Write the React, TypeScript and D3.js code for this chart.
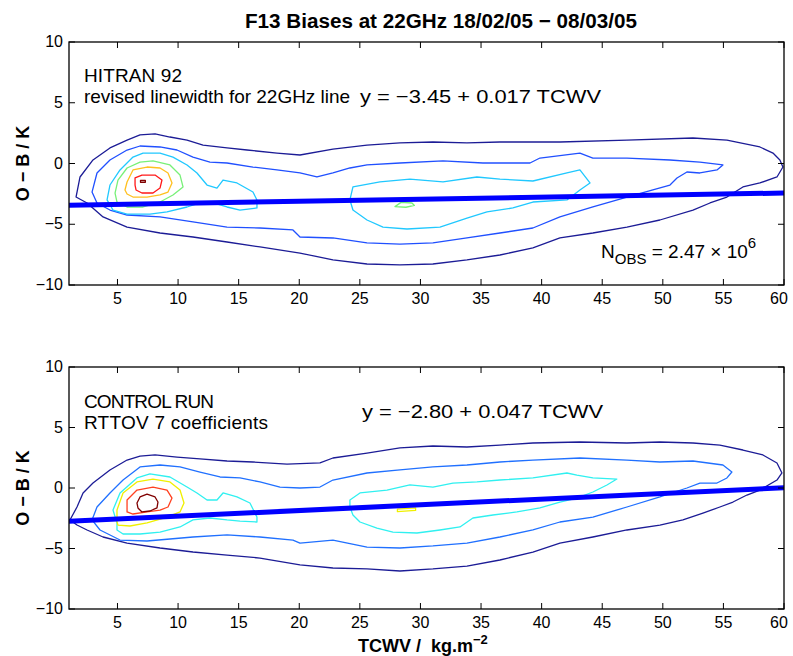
import React from 'react'
import * as d3 from 'd3'

// TCWV axis ticks and O-B ticks
const xTicks = [5, 10, 15, 20, 25, 30, 35, 40, 45, 50, 55, 60]
const yTicks = [-10, -5, 0, 5, 10]

type Pt = [number, number]

// ---- top panel (HITRAN 92 revised) contours, [TCWV, O-B] ----
const topNavy: Pt[] = [[1.58, -2.76], [1.91, -1.11], [2.98, 0.29], [4.38, 1.28], [5.79, 1.93], [6.86, 2.35], [8.1, 2.43], [9.33, 2.18], [10.74, 1.93], [12.06, 1.52], [14.04, 1.28], [15.69, 1.11], [18.16, 0.86], [20.06, 0.7], [22.78, 1.19], [25.59, 1.52], [28.31, 1.69], [31.03, 1.77], [33.84, 1.69], [36.56, 1.77], [39.28, 1.77], [41.51, 1.77], [47.04, 1.93], [52.49, 2.1], [55.29, 1.93], [58.01, 1.36], [59.09, 0.86], [59.66, 0.29], [59.91, -0.29], [59.42, -1.11], [58.01, -1.6], [56.61, -1.93], [55.29, -2.76], [53.89, -3.25], [52.49, -3.83], [49.76, -4.65], [47.04, -5.23], [44.23, -5.72], [41.51, -6.13], [39.28, -6.95], [36.56, -7.53], [33.84, -7.94], [31.03, -8.27], [28.31, -8.35], [25.59, -8.27], [22.78, -7.94], [20.06, -7.37], [16.76, -6.87], [14.04, -6.46], [11.23, -6.05], [8.51, -5.72], [5.79, -5.23], [3.81, -4.4], [2.49, -3.25]]
const topBlue: Pt[] = [[2.9, -2.35], [3.31, -0.78], [4.38, 0.29], [5.79, 1.11], [6.86, 1.44], [8.51, 1.36], [9.91, 1.11], [11.23, 0.53], [12.63, 0.12], [14.04, 0.04], [16.18, -0.29], [18.16, -0.53], [20.06, -0.78], [21.46, -1.11], [22.78, -0.78], [24.18, -0.37], [25.59, -0.12], [28.31, 0.04], [31.86, 0.21], [35.16, 0.04], [39.04, 0.04], [39.86, 0.45], [43.16, 0.86], [44.23, 0.45], [47.04, 0.45], [50.59, 0.29], [53.06, 0.12], [54.96, -0.12], [54.47, -0.53], [53.06, -0.78], [51.99, -0.7], [51.17, -1.19], [50.59, -1.77], [49.18, -2.18], [47.04, -2.76], [44.23, -3.58], [41.51, -4.4], [39.28, -5.31], [36.56, -5.72], [33.84, -6.13], [31.03, -6.54], [28.31, -6.63], [25.59, -6.54], [22.78, -6.13], [20.06, -6.05], [19.48, -5.47], [16.76, -5.31], [14.04, -5.23], [11.23, -4.81], [8.51, -4.4], [5.79, -4.24], [4.38, -3.83], [3.31, -3.25]]
const topCyanA: Pt[] = [[4.14, -3.0], [4.38, -1.77], [5.21, -0.53], [6.28, 0.53], [7.11, 0.86], [8.51, 0.86], [9.58, 0.53], [10.74, -0.12], [11.56, -0.78], [12.39, -1.77], [13.21, -2.02], [13.71, -1.36], [14.86, -1.6], [16.18, -2.35], [16.51, -3.0], [16.51, -3.66], [15.11, -3.83], [14.04, -3.58], [12.88, -3.25], [11.81, -3.25], [10.74, -3.58], [9.09, -3.99], [7.68, -4.16], [5.79, -4.16], [4.63, -3.83]]
const topCyanB: Pt[] = [[24.43, -1.93], [26.66, -1.52], [29.13, -1.28], [31.86, -1.52], [34.66, -1.11], [36.56, -1.28], [39.28, -1.44], [42.09, -0.78], [43.16, -0.53], [43.99, -1.6], [43.16, -2.18], [42.09, -3.0], [39.28, -3.17], [37.63, -3.66], [35.49, -3.99], [33.84, -4.49], [31.61, -5.23], [28.89, -5.39], [26.91, -5.23], [25.59, -4.65], [24.43, -3.83], [24.18, -3.0]]
const topGreenA: Pt[] = [[4.8, -2.43], [5.04, -1.36], [5.79, -0.37], [6.86, 0.12], [7.93, 0.21], [9.33, -0.12], [10.16, -0.95], [10.41, -1.93], [9.58, -2.59], [8.51, -3.17], [7.11, -3.58], [5.79, -3.58], [4.96, -3.17]]
const topGreenB: Pt[] = [[27.9, -3.55], [28.4, -3.2], [29.3, -3.25], [29.5, -3.45], [28.8, -3.6]]
const topOrange: Pt[] = [[5.62, -2.18], [5.79, -1.52], [6.28, -0.53], [7.44, -0.29], [8.51, -0.37], [9.17, -0.78], [9.5, -1.6], [9.17, -2.35], [8.51, -2.59], [7.44, -2.76], [6.28, -2.76], [5.79, -2.51]]
const topRed: Pt[] = [[6.45, -1.77], [6.45, -1.19], [7.02, -0.95], [8.1, -0.95], [8.67, -1.36], [8.51, -2.02], [7.93, -2.43], [7.02, -2.43], [6.53, -2.18]]
const topDark: Pt[] = [[6.9, -1.4], [7.3, -1.4], [7.3, -1.55], [6.9, -1.55]]

// ---- bottom panel (control run) contours ----
const botNavy: Pt[] = [[1.08, -2.64], [1.66, -1.57], [2.16, -0.41], [2.98, 0.41], [4.38, 1.49], [5.79, 2.31], [6.86, 2.64], [8.1, 2.73], [9.91, 2.56], [11.81, 2.4], [14.04, 2.23], [16.18, 2.15], [18.99, 1.98], [21.71, 2.07], [22.78, 2.48], [25.59, 2.89], [28.31, 3.31], [31.03, 3.47], [33.84, 3.39], [36.56, 3.55], [39.28, 3.72], [43.16, 3.8], [47.04, 3.72], [49.76, 3.8], [52.49, 3.72], [54.71, 3.55], [56.61, 3.14], [58.26, 2.73], [59.42, 2.07], [59.83, 1.24], [59.42, 0.66], [58.01, -0.17], [56.94, -0.58], [55.79, -1.16], [54.71, -1.57], [53.31, -2.07], [51.66, -2.64], [49.76, -3.06], [47.04, -3.47], [44.23, -4.05], [41.51, -4.55], [39.28, -5.29], [36.56, -5.95], [33.84, -6.45], [31.03, -6.69], [28.31, -6.86], [25.59, -6.69], [22.78, -6.61], [20.06, -6.36], [16.76, -5.79], [14.04, -5.54], [11.23, -5.29], [8.51, -4.96], [5.79, -4.55], [3.81, -4.05], [2.49, -3.47], [1.66, -3.06]]
const botBlue: Pt[] = [[2.9, -2.64], [3.31, -1.57], [4.38, -0.41], [5.46, 0.66], [6.86, 1.74], [8.51, 1.9], [10.16, 1.74], [11.81, 1.32], [13.46, 0.91], [15.11, 0.83], [16.76, 0.5], [18.41, 0.08], [20.06, 0.0], [21.71, 0.08], [22.78, 0.66], [25.59, 1.24], [28.31, 1.49], [31.03, 1.74], [33.84, 1.9], [36.56, 2.15], [39.28, 2.31], [43.16, 2.48], [47.04, 2.31], [49.76, 2.15], [52.49, 2.23], [54.96, 1.9], [55.7, 1.32], [55.29, 0.83], [54.47, 0.41], [53.06, 0.41], [51.99, 0.0], [49.76, -0.74], [47.04, -1.57], [44.23, -2.4], [41.51, -2.81], [39.28, -3.47], [36.56, -4.05], [33.84, -4.55], [31.03, -4.79], [28.31, -4.96], [25.59, -4.88], [22.78, -4.3], [20.06, -4.55], [19.48, -4.3], [16.76, -4.05], [14.04, -3.88], [11.23, -4.05], [7.44, -4.38], [5.21, -4.3], [3.56, -3.47]]
const botCyanA: Pt[] = [[4.96, -2.89], [4.63, -1.82], [5.21, -0.41], [6.61, 0.83], [7.68, 1.16], [9.33, 0.91], [10.74, 0.08], [11.56, -0.41], [12.39, -0.99], [13.21, -0.99], [13.71, -0.41], [14.86, -0.74], [15.93, -1.24], [16.51, -2.4], [16.51, -2.81], [15.11, -2.73], [14.04, -2.64], [12.63, -2.48], [11.23, -2.64], [10.16, -3.22], [8.51, -3.64], [6.86, -3.8], [5.46, -3.8], [4.96, -3.47]]
const botCyanB: Pt[] = [[24.18, -0.99], [25.01, -0.41], [27.24, -0.17], [29.13, 0.25], [31.03, 0.08], [32.68, 0.41], [34.66, 0.5], [36.56, 0.66], [39.28, 0.83], [42.09, 1.24], [42.91, 1.07], [44.23, 0.83], [46.21, 0.74], [45.39, 0.25], [44.23, -0.33], [42.91, -0.83], [41.51, -1.16], [39.86, -1.65], [37.96, -1.98], [35.98, -2.23], [34.33, -2.48], [33.26, -3.22], [31.61, -3.47], [29.71, -3.72], [27.73, -3.64], [26.41, -3.31], [25.01, -2.81], [24.43, -2.23], [24.18, -1.57]]
const botYellowA: Pt[] = [[4.96, -2.81], [4.96, -1.82], [5.46, -0.41], [6.61, 0.5], [7.93, 0.74], [9.33, 0.5], [10.16, -0.17], [10.49, -1.24], [10.16, -1.98], [9.09, -2.4], [7.44, -2.89], [6.03, -3.14], [5.04, -3.06]]
const botYellowB: Pt[] = [[28.1, -1.75], [29.6, -1.65], [29.6, -1.85], [28.1, -1.95]]
const botOrange: Pt[] = [[5.79, -1.98], [5.79, -0.99], [6.61, -0.17], [7.93, 0.08], [9.09, -0.17], [9.5, -0.83], [9.17, -1.57], [8.51, -1.82], [7.44, -1.98], [6.28, -2.15]]
const botDark: Pt[] = [[6.61, -1.24], [6.86, -0.74], [7.44, -0.5], [8.1, -0.74], [8.34, -1.16], [8.26, -1.65], [7.68, -1.9], [7.02, -1.98], [6.69, -1.65]]

// regression fits: [intercept, slope]
const topFit: Pt = [-3.45, 0.017]
const botFit: Pt = [-2.8, 0.047]

const topContours: { pts: Pt[]; color: string }[] = [
  { pts: topNavy, color: '#1c1c96' },
  { pts: topBlue, color: '#2050ff' },
  { pts: topCyanA, color: '#20c8ff' },
  { pts: topCyanB, color: '#20c8ff' },
  { pts: topGreenA, color: '#78f078' },
  { pts: topGreenB, color: '#78f078' },
  { pts: topOrange, color: '#ffc020' },
  { pts: topRed, color: '#ff1818' },
  { pts: topDark, color: '#800000' },
]
const botContours: { pts: Pt[]; color: string }[] = [
  { pts: botNavy, color: '#1c1c96' },
  { pts: botBlue, color: '#2070ff' },
  { pts: botCyanA, color: '#30f0f0' },
  { pts: botCyanB, color: '#30f0f0' },
  { pts: botYellowA, color: '#f0f000' },
  { pts: botYellowB, color: '#f0f000' },
  { pts: botOrange, color: '#ff4020' },
  { pts: botDark, color: '#800000' },
]

const FONT = 'Liberation Sans, Arial, Helvetica, sans-serif'
const L = 69, R = 784

function Panel({ top, bottom, contours, fit, children }: { top: number; bottom: number; contours: { pts: Pt[]; color: string }[]; fit: Pt; children?: React.ReactNode }) {
  const x = d3.scaleLinear().domain([1, 60]).range([L, R])
  const y = d3.scaleLinear().domain([-10, 10]).range([bottom, top])
  const line = d3.line<Pt>().x(d => x(d[0])).y(d => y(d[1])).curve(d3.curveLinearClosed)
  const [a, b] = fit
  const tk = 6
  return (
    <g>
      <defs>
        <clipPath id={`clip${top}`}><rect x={L} y={top} width={R - L} height={bottom - top} /></clipPath>
      </defs>
      <g clipPath={`url(#clip${top})`}>
        {contours.map((c, i) => (
          <path key={i} d={line(c.pts) || ''} fill="none" stroke={c.color} strokeWidth={1.3} strokeLinejoin="round" />
        ))}
        <line x1={x(1)} x2={x(60)} y1={y(a + b * 1)} y2={y(a + b * 60)} stroke="#0000ff" strokeWidth={5} />
      </g>
      <rect x={L} y={top} width={R - L} height={bottom - top} fill="none" stroke="#000" strokeWidth={1.3} />
      {xTicks.map(t => (
        <g key={t}>
          <line x1={x(t)} x2={x(t)} y1={bottom} y2={bottom - tk} stroke="#000" />
          <line x1={x(t)} x2={x(t)} y1={top} y2={top + tk} stroke="#000" />
          <text x={x(t) - (t === 60 ? 5 : 0)} y={bottom + 19} textAnchor="middle" fontSize={16} fontFamily={FONT}>{t}</text>
        </g>
      ))}
      {yTicks.map(t => (
        <g key={t}>
          <line x1={L} x2={L + tk} y1={y(t)} y2={y(t)} stroke="#000" />
          <line x1={R} x2={R - tk} y1={y(t)} y2={y(t)} stroke="#000" />
          <text x={L - 6} y={y(t) + 5} textAnchor="end" fontSize={16} fontFamily={FONT}>{t < 0 ? `\u2212${-t}` : t}</text>
        </g>
      ))}
      <text transform={`translate(29,${(top + bottom) / 2}) rotate(-90)`} textAnchor="middle" fontSize={18} fontWeight="bold" fontFamily={FONT}>O − B / K</text>
      {children}
    </g>
  )
}

export default function App() {
  return (
    <svg width={793} height={656} style={{ display: 'block', position: 'absolute', left: 0, top: 0, background: '#fff' }}>
      <text x={245} y={28} textLength={392} lengthAdjust="spacingAndGlyphs" fontSize={20} fontWeight="bold" fontFamily={FONT}>F13 Biases at 22GHz 18/02/05 − 08/03/05</text>
      <Panel top={42} bottom={285} contours={topContours} fit={topFit}>
        <text x={84} y={82} textLength={98} fontSize={19} fontFamily={FONT}>HITRAN 92</text>
        <text x={84} y={103} textLength={266} fontSize={19} fontFamily={FONT}>revised linewidth for 22GHz line</text>
        <text x={360} y={103} textLength={241} lengthAdjust="spacingAndGlyphs" fontSize={19} fontFamily={FONT}>y = −3.45 + 0.017 TCWV</text>
        <text x={601} y={258} fontSize={19} fontFamily={FONT}>N<tspan fontSize={15} dy={6}>OBS</tspan><tspan dy={-6}> = 2.47 × 10</tspan><tspan fontSize={15} dy={-10}>6</tspan></text>
      </Panel>
      <Panel top={367} bottom={609} contours={botContours} fit={botFit}>
        <text x={84} y={408} textLength={130} fontSize={19} fontFamily={FONT}>CONTROL RUN</text>
        <text x={84} y={429} textLength={184} fontSize={19} fontFamily={FONT}>RTTOV 7 coefficients</text>
        <text x={362} y={418} textLength={241} lengthAdjust="spacingAndGlyphs" fontSize={19} fontFamily={FONT}>y = −2.80 + 0.047 TCWV</text>
      </Panel>
      <text x={358} y={652} fontSize={18} fontWeight="bold" fontFamily={FONT}>{'TCWV /\u00a0 kg.m'}<tspan fontSize={13} dy={-8}>−2</tspan></text>
    </svg>
  )
}
